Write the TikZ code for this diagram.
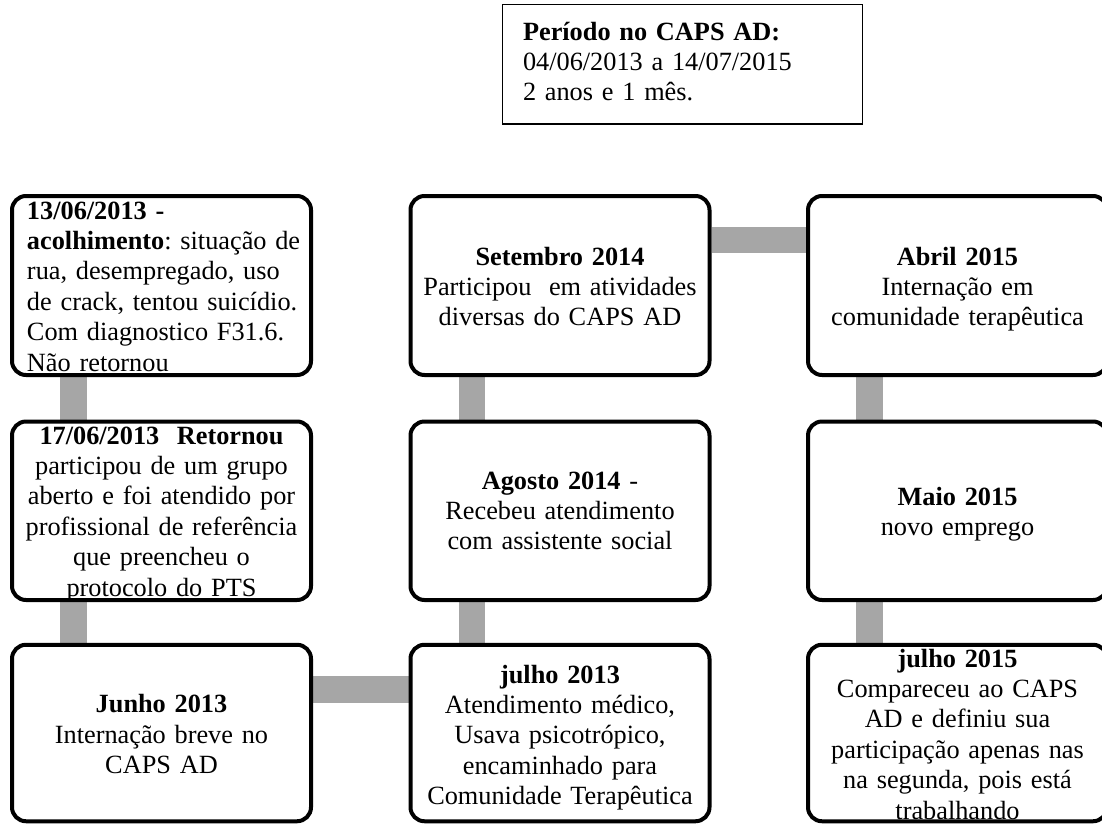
\documentclass[tikz,border=0pt]{standalone}
\usepackage{fontspec}
\setmainfont{Liberation Serif}
\usetikzlibrary{backgrounds}
\definecolor{linkgray}{HTML}{A6A6A6}
% fixed height for the first line of every text block
\newcommand{\firstline}{\rule{0pt}{20pt}}
\frenchspacing

\begin{document}
\begin{tikzpicture}[x=1pt,y=-1pt,
  txt/.style={inner sep=0pt, outer sep=0pt, font=\fontsize{26.3}{30.4}\selectfont,
              align=center, text width=296pt, anchor=north},
  txtleft/.style={txt, align=left, anchor=north west},
  event/.style={draw=black, line width=4pt, rounded corners=14pt, inner sep=0pt,
                minimum width=299pt},
  row1/.style={event, minimum height=179pt},
  row2/.style={event, minimum height=178.5pt},
  row3/.style={event, minimum height=176.5pt},
  link/.style={draw=linkgray, line width=26.5pt, line cap=butt},
  period/.style={draw=black, line width=1.3pt, inner sep=0pt,
                 minimum width=360pt, minimum height=119.5pt}
]
\useasboundingbox (0,0) rectangle (1102,825);

% summary of the whole period
\node[period] (periodbox) at (682.5,64.25) {};
\node[txtleft] (periodtxt) at (523,20)
  {\firstline\textbf{Período no CAPS AD:}\\04/06/2013 a 14/07/2015\\2 anos e 1 mês.};

% event texts
\node[txtleft] (t11) at (27,199)
  {\firstline\textbf{13/06/2013 -}\\\textbf{acolhimento}: situação de\\rua, desempregado, uso\\de crack, tentou suicídio.\\Com diagnostico F31.6.\\Não retornou};
\node[txt] (t12) at (161.5,424)
  {\firstline\textbf{17/06/2013~ Retornou}\\participou de um grupo\\aberto e foi atendido por\\profissional de referência\\que preencheu o\\protocolo do PTS};
\node[txt] (t13) at (161.5,692.7)
  {\firstline\textbf{Junho 2013}\\Internação breve no\\CAPS AD};
\node[txt] (t23) at (560,663)
  {\firstline\textbf{julho 2013}\\Atendimento médico,\\Usava psicotrópico,\\encaminhado para\\Comunidade Terapêutica};
\node[txt] (t22) at (560,469)
  {\firstline\textbf{Agosto 2014} -\\Recebeu atendimento\\com assistente social};
\node[txt] (t21) at (560,245)
  {\firstline\textbf{Setembro 2014}\\Participou~ em atividades\\diversas do CAPS AD};
\node[txt] (t31) at (957.5,245)
  {\firstline\textbf{Abril 2015}\\Internação em\\comunidade terapêutica};
\node[txt] (t32) at (957.5,485)
  {\firstline\textbf{Maio 2015}\\novo emprego};
\node[txt] (t33) at (957.5,647)
  {\firstline\textbf{julho 2015}\\Compareceu ao CAPS\\AD e definiu sua\\participação apenas nas\\na segunda, pois está\\trabalhando};

% event frames
\node[row1] (e11) at (161.5,285.5) {};
\node[row2] (e12) at (161.5,510.75) {};
\node[row3] (e13) at (161.5,733) {};
\node[row3] (e23) at (560,733) {};
\node[row2] (e22) at (560,510.75) {};
\node[row1] (e21) at (560,285.5) {};
\node[row1] (e31) at (957.5,285.5) {};
\node[row2] (e32) at (957.5,510.75) {};
\node[row3] (e33) at (957.5,733) {};

% grey links behind the frames
\begin{scope}[on background layer]
  \draw[link] ([xshift=-88pt]e11.south) -- ([xshift=-88pt]e12.north);
  \draw[link] ([xshift=-88pt]e12.south) -- ([xshift=-88pt]e13.north);
  \draw[link] ([yshift=43.5pt]e13.east) -- ([yshift=43.5pt]e23.west);
  \draw[link] ([xshift=-88pt]e23.north) -- ([xshift=-88pt]e22.south);
  \draw[link] ([xshift=-88pt]e22.north) -- ([xshift=-88pt]e21.south);
  \draw[link] ([yshift=45.5pt]e21.east) -- ([yshift=45.5pt]e31.west);
  \draw[link] ([xshift=-88pt]e31.south) -- ([xshift=-88pt]e32.north);
  \draw[link] ([xshift=-88pt]e32.south) -- ([xshift=-88pt]e33.north);
\end{scope}
\end{tikzpicture}
\end{document}
